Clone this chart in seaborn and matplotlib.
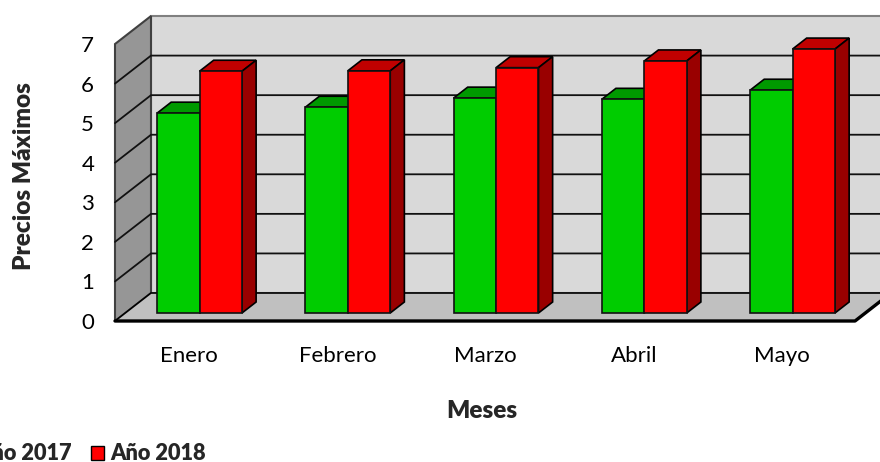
import matplotlib.pyplot as plt
import pandas as pd
import seaborn as sns
from matplotlib.patches import Patch, Polygon

MONTHS = ["Enero", "Febrero", "Marzo", "Abril", "Mayo"]
PRICES_2017 = [5.05, 5.2, 5.43, 5.4, 5.63]
PRICES_2018 = [6.11, 6.12, 6.2, 6.37, 6.67]
SERIES = ["Año 2017", "Año 2018"]
Y_TICKS = [0, 1, 2, 3, 4, 5, 6, 7]

# fake 3d box, everything is sheared by depth d (0 = front of the box, 1 = back wall)
DX = 0.2428
DY = 0.7076
BAR_D0 = 8 / 28
BAR_D1 = 19 / 28
LIFT = BAR_D0 * DY
X_LEFT = -0.57
X_RIGHT = 4.4216


def project(x, y, d):
    return x + d * DX, y + d * DY - LIFT


def face(ax, points, color, zorder, edge="black", lw=1.2):
    ax.add_patch(Polygon(points, closed=True, facecolor=color, edgecolor=edge, linewidth=lw,
                         zorder=zorder, clip_on=False, joinstyle="miter"))


def draw_box(ax):
    y_top = Y_TICKS[-1]
    # back wall
    face(ax, [project(X_LEFT, 0, 1), project(X_RIGHT, 0, 1), project(X_RIGHT, y_top, 1), project(X_LEFT, y_top, 1)],
         "#D9D9D9", 1, edge="#808080", lw=1.5)
    # side wall
    face(ax, [project(X_LEFT, 0, 0), project(X_LEFT, 0, 1), project(X_LEFT, y_top, 1), project(X_LEFT, y_top, 0)],
         "#969696", 1, edge="#404040", lw=1.5)
    # floor
    face(ax, [project(X_LEFT, 0, 0), project(X_RIGHT, 0, 0), project(X_RIGHT, 0, 1), project(X_LEFT, 0, 1)],
         "#C0C0C0", 1, edge="black", lw=1.2)

    for tick in Y_TICKS[1:-1]:
        xs, ys = zip(project(X_LEFT, tick, 0), project(X_LEFT, tick, 1), project(X_RIGHT, tick, 1))
        ax.plot(xs, ys, color="#111111", linewidth=1.3, zorder=2, clip_on=False)

    xs, ys = zip(project(X_LEFT, 0, 0), project(X_RIGHT, 0, 0), project(X_RIGHT, 0, 1))
    ax.plot(xs, ys, color="black", linewidth=2.4, zorder=2, clip_on=False)


def draw_bar_depth(ax, container, top_color, side_color):
    shift = BAR_D0 * DX
    for bar in container:
        x0 = bar.get_x() - shift
        x1 = x0 + bar.get_width()
        h = bar.get_height()
        top = [project(x0, h, BAR_D0), project(x1, h, BAR_D0), project(x1, h, BAR_D1), project(x0, h, BAR_D1)]
        side = [project(x1, 0, BAR_D0), project(x1, 0, BAR_D1), project(x1, h, BAR_D1), project(x1, h, BAR_D0)]
        face(ax, top, top_color, 4)
        face(ax, side, side_color, 4)


sns.set_style("white")
plt.rcParams["font.family"] = ["Lato", "DejaVu Sans"]

df = pd.DataFrame({
    "Mes": MONTHS * 2,
    "Precio": PRICES_2017 + PRICES_2018,
    "Serie": [SERIES[0]] * len(MONTHS) + [SERIES[1]] * len(MONTHS),
})

fig = plt.figure(figsize=(8.8, 4.62), dpi=100)
ax = fig.add_axes([115 / 880, 1 - 321 / 462, 765 / 880, 305 / 462])

sns.barplot(data=df, x="Mes", y="Precio", hue="Serie", palette=["#00CC00", "#FF0000"], width=0.573, gap=0,
            saturation=1, edgecolor="#111111", linewidth=1.2, legend=False, zorder=5, ax=ax)

draw_box(ax)
draw_bar_depth(ax, ax.containers[0], "#009900", "#009900")
draw_bar_depth(ax, ax.containers[1], "#C00000", "#990000")

ax.set_xlim(X_LEFT, 4.59)
ax.set_ylim(-LIFT, 7.506)
ax.patch.set_visible(False)
sns.despine(ax=ax, left=True, bottom=True)

ax.set_yticks([t - LIFT for t in Y_TICKS], [str(t) for t in Y_TICKS])
ax.set_xticks([i - BAR_D0 * DX for i in range(len(MONTHS))], MONTHS)
ax.tick_params(axis="y", length=0, pad=15, labelsize=16, labelcolor="black")
ax.tick_params(axis="x", length=0, pad=18, labelsize=16, labelcolor="black")

ax.set_xlabel("Meses", fontsize=17.5, fontweight="heavy")
ax.xaxis.set_label_coords(0.479, -0.295)
ax.xaxis.label.set_verticalalignment("center")
ax.set_ylabel("Precios Máximos", fontsize=17.5, fontweight="heavy")
ax.yaxis.set_label_coords(-0.119, 0.475)
ax.yaxis.label.set_verticalalignment("center")

handles = [Patch(facecolor="#00CC00", edgecolor="black", label=SERIES[0]),
           Patch(facecolor="#FF0000", edgecolor="black", label=SERIES[1])]
fig.legend(handles=handles, loc="lower left", bbox_to_anchor=(-0.049, -0.005), ncol=2, frameon=False,
           prop={"weight": "heavy", "size": 15.7}, handlelength=0.6, handleheight=0.6, handletextpad=0.27,
           columnspacing=0.9, borderpad=0, borderaxespad=0)

fig.savefig("out.png", dpi=100)
